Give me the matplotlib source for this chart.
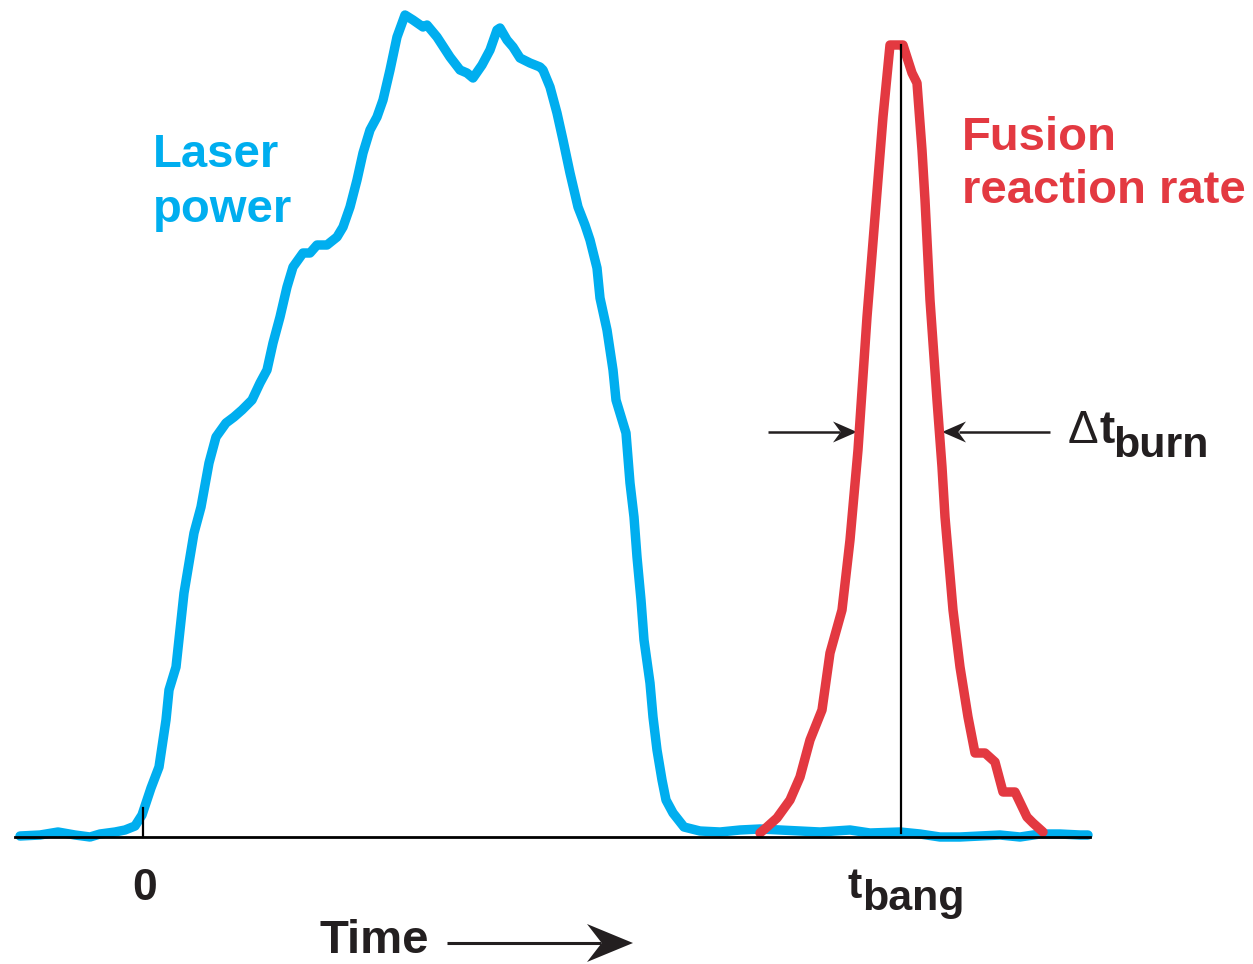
import numpy as np
import matplotlib.pyplot as plt
from matplotlib.patches import Polygon

plt.rcParams['font.family'] = ['Liberation Sans', 'DejaVu Sans']

# time measured from t = 0 (start of the laser pulse), arbitrary units
laser_t = np.array([-123, -103, -85, -68, -53, -43, -28, -18, -8, -1, 8, 16, 23, 26, 33, 41,
                    51, 58, 66, 73, 83, 91, 99, 109, 117, 124, 130, 137, 144, 150, 160, 167,
                    174, 184, 194, 200, 207, 214, 220, 227, 234, 240, 247, 254, 262, 270, 280,
                    284, 294, 307, 317, 324, 330, 339, 347, 354, 357, 364, 370, 377, 387, 397,
                    400, 407, 414, 420, 427, 435, 442, 447, 454, 457, 464, 470, 473, 483, 487,
                    491, 494, 498, 501, 507, 510, 514, 519, 523, 530, 541, 557, 577, 597, 617,
                    637, 657, 677, 707, 727, 757, 777, 797, 817, 837, 857, 877, 897, 917, 937,
                    945])
laser_power = np.array([1, 2, 5, 2, 0, 3, 5, 7, 11, 22, 49, 70, 117, 147, 170, 244,
                        304, 330, 374, 400, 414, 420, 427, 437, 454, 467, 494, 520, 550, 570,
                        584, 584, 592, 592, 600, 610, 630, 657, 684, 707, 720, 737, 767, 800,
                        822, 817, 810, 812, 800, 780, 767, 764, 759, 772, 787, 807, 809, 797,
                        790, 779, 774, 770, 767, 750, 724, 697, 664, 630, 612, 597, 569, 539,
                        507, 467, 437, 404, 354, 320, 280, 237, 197, 154, 120, 87, 57, 37, 24,
                        10, 6, 5, 7, 8, 7, 6, 5, 7, 4, 5, 3, 0, 0, 1, 2, 0, 3, 3, 2, 2])

fusion_t = np.array([617, 624, 634, 647, 657, 667, 679, 687, 699, 707, 715, 724, 732, 740,
                     747, 760, 769, 774, 779, 782, 787, 794, 799, 802, 810, 817, 825, 832,
                     842, 852, 860, 872, 884, 890, 900])
fusion_rate = np.array([4, 10, 19, 37, 60, 97, 127, 184, 227, 297, 387, 520, 620, 720,
                        792, 792, 764, 754, 687, 637, 537, 437, 370, 320, 227, 170, 120, 84,
                        84, 75, 45, 45, 20, 14, 5])

t_bang = 758
t_end = 947
burn_left, burn_right = 714, 799
burn_level = 405

BLUE = '#00AEEF'
RED = '#E33941'
INK = '#231F20'


def stealth_arrow(ax, x0, x1, y, head_len, head_w, lw):
    # horizontal shaft plus a notched, filled arrow head pointing at x1
    d = np.sign(x1 - x0)
    ax.plot([x0, x1 - d * head_len * 0.7], [y, y], color=INK, lw=lw, solid_capstyle='butt')
    head = [(x1, y), (x1 - d * head_len, y + head_w / 2),
            (x1 - d * head_len * 0.68, y), (x1 - d * head_len, y - head_w / 2)]
    ax.add_patch(Polygon(head, closed=True, color=INK, lw=0))


fig = plt.figure(figsize=(12.53, 9.64), dpi=100)
ax = fig.add_axes([0, 0, 1, 1])
ax.set_xlim(-143, 1110)
ax.set_ylim(-127, 837)
ax.axis('off')

ax.plot(laser_t, laser_power, color=BLUE, lw=6.8, solid_capstyle='round',
        solid_joinstyle='round', zorder=2)
ax.plot(fusion_t, fusion_rate, color=RED, lw=6.8, solid_capstyle='round',
        solid_joinstyle='round', zorder=3)

# time axis, t = 0 tick and bang time marker
ax.plot([-128, t_end], [0, 0], color='black', lw=2, zorder=4)
ax.plot([0, 0], [0, 29], color='black', lw=1.6, zorder=4)
ax.plot([t_bang, t_bang], [4, fusion_rate.max()], color='black', lw=1.6, zorder=4)

# burn width arrows
stealth_arrow(ax, burn_left - 89, burn_left, burn_level, 24, 21, 1.8)
stealth_arrow(ax, burn_right + 108, burn_right, burn_level, 24, 21, 1.8)

bold = dict(fontweight='bold', va='baseline')
ax.text(10, 670, 'Laser', color=BLUE, fontsize=34, **bold)
ax.text(10, 615, 'power', color=BLUE, fontsize=34, **bold)
ax.text(819, 687, 'Fusion', color=RED, fontsize=34, **bold)
ax.text(819, 634, 'reaction rate', color=RED, fontsize=34, **bold)

ax.text(925, 394, '\u0394', color=INK, fontsize=33, va='baseline')
ax.text(957, 394, 't', color=INK, fontsize=33, **bold)
ax.text(970, 380, 'burn', color=INK, fontsize=31, **bold)

ax.text(2, -63, '0', color=INK, fontsize=32, ha='center', **bold)
ax.text(704, -61, 't', color=INK, fontsize=31, **bold)
ax.text(719, -73, 'bang', color=INK, fontsize=31, **bold)

ax.text(177, -126, 'Time', color=INK, fontsize=34, fontweight='bold', va='bottom')
stealth_arrow(ax, 304, 490, -106, 46, 38, 2.2)

fig.savefig('out.png', dpi=100)
